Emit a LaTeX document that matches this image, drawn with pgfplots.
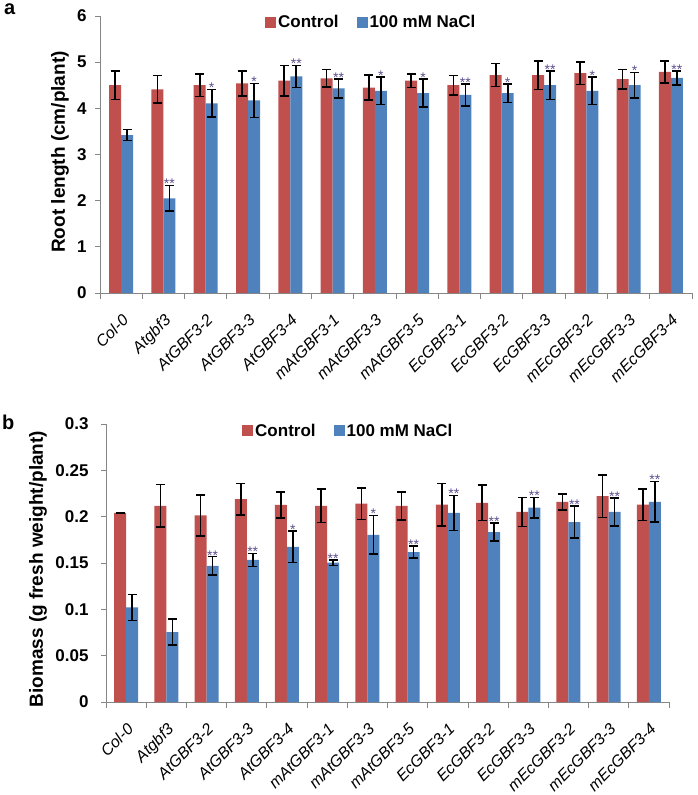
\documentclass[border=0pt]{standalone}
\usepackage{fontspec}
\setmainfont{Liberation Sans}
\usepackage{pgfplots}
\usepackage{pgfplotstable}
\pgfplotsset{compat=1.18}
\definecolor{cred}{HTML}{C0504D}
\definecolor{cblue}{HTML}{4F81BD}
\definecolor{axgray}{HTML}{868686}
\definecolor{star}{HTML}{5E4F8E}

\pgfplotstableread{
x c ce n ne s
0 4.50 0.31 3.42 0.12 -
1 4.41 0.30 2.05 0.28 **
2 4.50 0.24 4.11 0.30 *
3 4.54 0.27 4.17 0.37 *
4 4.60 0.33 4.69 0.24 **
5 4.65 0.19 4.43 0.21 **
6 4.45 0.27 4.38 0.30 *
7 4.60 0.15 4.33 0.30 *
8 4.50 0.21 4.29 0.24 **
9 4.72 0.25 4.33 0.20 *
10 4.72 0.31 4.50 0.31 **
11 4.76 0.24 4.38 0.30 *
12 4.63 0.21 4.50 0.28 *
13 4.79 0.24 4.66 0.15 **
}\dataA

\pgfplotstableread{
x c ce n ne s
0 0.2040 0.0005 0.1020 0.0140 -
1 0.2116 0.0230 0.0754 0.0140 -
2 0.2014 0.0220 0.1470 0.0100 **
3 0.2188 0.0170 0.1533 0.0070 **
4 0.2127 0.0140 0.1674 0.0170 *
5 0.2116 0.0180 0.1503 0.0030 **
6 0.2141 0.0170 0.1804 0.0210 *
7 0.2116 0.0150 0.1616 0.0065 **
8 0.2130 0.0230 0.2040 0.0190 **
9 0.2149 0.0190 0.1833 0.0097 **
10 0.2051 0.0156 0.2098 0.0110 **
11 0.2160 0.0087 0.1942 0.0170 **
12 0.2221 0.0230 0.2051 0.0150 **
13 0.2130 0.0170 0.2160 0.0220 **
}\dataB

\pgfplotsset{
  mybars/.style={
    scale only axis, ybar=0pt, bar width=12pt,
    xmin=-0.5, xmax=13.5, ymin=0,
    clip=false,
    axis x line*=bottom, axis y line*=left,
    axis line style={-, draw=axgray, line width=0.8pt},
    tick align=outside,
    xtick={0,...,13},
    xticklabels={Col-0, Atgbf3, AtGBF3-2, AtGBF3-3, AtGBF3-4, mAtGBF3-1, mAtGBF3-3, mAtGBF3-5, EcGBF3-1, EcGBF3-2, EcGBF3-3, mEcGBF3-2, mEcGBF3-3, mEcGBF3-4},
    major x tick style={draw=none},
    minor xtick={-0.5,0.5,...,13.5},
    minor tick length=6pt,
    minor x tick style={draw=axgray, line width=0.8pt},
    ytick style={draw=axgray, line width=0.8pt},
    major tick length=5pt,
    xticklabel shift=15pt,
    xticklabel style={font=\fontsize{16}{16}\selectfont\itshape, text=black, rotate=45, anchor=north east, inner sep=0pt},
    yticklabel style={font=\fontsize{17}{17}\selectfont\bfseries},
    /pgf/number format/assume math mode=true,
    legend columns=2,
    legend style={draw=none, fill=none, inner sep=0pt, font=\fontsize{17}{17}\selectfont\bfseries,
      /tikz/every even column/.append style={column sep=16pt}},
    legend image code/.code={\fill[##1] (0pt,-5.5pt) rectangle (11pt,5.5pt);},
    legend cell align=left,
    error bars/y dir=both, error bars/y explicit,
    error bars/error bar style={line width=1.6pt, black},
    error bars/error mark options={rotate=90, mark size=4.5pt, line width=1.6pt, black},
  },
  starstyle/.style={draw=none, fill=none, bar shift=6pt, forget plot,
    nodes near coords, point meta=explicit symbolic,
    every node near coord/.append style={font=\fontsize{14}{14}\selectfont, text=star, anchor=base, inner sep=0pt, yshift=-3.5pt}},
}

\begin{document}
\begin{tikzpicture}
\useasboundingbox (0pt,0pt) rectangle (697pt,795pt);

\begin{axis}[mybars,
  at={(100pt,502pt)}, anchor=south west,
  width=592pt, height=277pt,
  ymax=6, ytick={0,1,...,6},
  yticklabel style={xshift=-5pt},
  ylabel={Root length (cm/plant)},
  ylabel style={font=\fontsize{19}{19}\selectfont\bfseries, at={(axis description cs:-0.0676,0.509)}, anchor=center},
  legend style={at={(axis description cs:0.2787,0.978)}, anchor=west},
]
\addplot[fill=cred, draw=none, bar shift=-6pt] table[x=x, y=c, y error=ce]{\dataA};
\addplot[fill=cblue, draw=none, bar shift=6pt] table[x=x, y=n, y error=ne]{\dataA};
\addplot[starstyle, skip coords between index={0}{1}] table[x=x, y expr=\thisrow{n}+\thisrow{ne}, meta=s]{\dataA};
\legend{Control, 100 mM NaCl}
\end{axis}

\begin{axis}[mybars,
  at={(106pt,93pt)}, anchor=south west,
  width=563pt, height=278pt,
  ymax=0.3, ytick={0,0.05,0.1,0.15,0.2,0.25,0.3},
  yticklabels={0,0.05,0.1,0.15,0.2,0.25,0.3},
  yticklabel style={xshift=-9pt},
  ylabel={Biomass (g fresh weight/plant)},
  ylabel style={font=\fontsize{19}{19}\selectfont\bfseries, at={(axis description cs:-0.1208,0.478)}, anchor=center},
  legend style={at={(axis description cs:0.2416,0.975)}, anchor=west},
]
\addplot[fill=cred, draw=none, bar shift=-6pt] table[x=x, y=c, y error=ce]{\dataB};
\addplot[fill=cblue, draw=none, bar shift=6pt] table[x=x, y=n, y error=ne]{\dataB};
\addplot[starstyle, skip coords between index={0}{2}] table[x=x, y expr=\thisrow{n}+\thisrow{ne}, meta=s]{\dataB};
\legend{Control, 100 mM NaCl}
\end{axis}

\node[font=\fontsize{20}{20}\selectfont\bfseries, anchor=base west, inner sep=0pt] at (4pt,780pt) {a};
\node[font=\fontsize{20}{20}\selectfont\bfseries, anchor=base west, inner sep=0pt] at (2pt,365pt) {b};
\end{tikzpicture}
\end{document}
